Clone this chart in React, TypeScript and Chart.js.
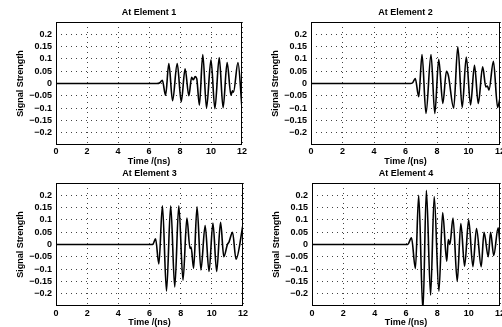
import React, { useEffect, useRef } from 'react';
import { Chart, registerables } from 'chart.js';

Chart.register(...registerables);

// ---------- data ----------
const xTicks = [0, 2, 4, 6, 8, 10, 12];
const yTicks = [-0.2, -0.15, -0.1, -0.05, 0, 0.05, 0.1, 0.15, 0.2];
const yTickLabels = ['\u22120.2', '\u22120.15', '\u22120.1', '\u22120.05', '0', '0.05', '0.1', '0.15', '0.2'];
const titles = ['At Element 1', 'At Element 2', 'At Element 3', 'At Element 4'];
const xLabel = 'Time /(ns)';
const yLabel = 'Signal Strength';

const time1 = [0, 6.5, 6.7, 6.86, 7.07, 7.28, 7.52, 7.82, 8.08, 8.33, 8.57, 8.75, 8.86, 8.98, 9.08, 9.25, 9.47, 9.71, 10.0, 10.25, 10.53, 10.78, 11.04, 11.29, 11.38, 11.45, 11.74, 12.0];
const signal1 = [0, 0, 0.003, 0.013, -0.048, 0.081, -0.07, 0.081, -0.074, 0.06, -0.05, 0.025, 0.015, 0.028, 0.02, -0.088, 0.118, -0.099, 0.096, -0.102, 0.105, -0.098, 0.085, -0.048, -0.03, -0.035, 0.085, -0.1];

const time2 = [0, 6.3, 6.45, 6.62, 6.84, 7.05, 7.3, 7.62, 7.86, 8.11, 8.37, 8.6, 8.72, 9.06, 9.32, 9.6, 9.86, 10.13, 10.38, 10.62, 10.9, 11.1, 11.2, 11.3, 11.58, 11.85, 12.0];
const signal2 = [0, 0, 0.003, 0.02, -0.054, 0.118, -0.122, 0.118, -0.122, 0.098, -0.081, 0.05, 0.033, -0.1, 0.149, -0.097, 0.108, -0.087, 0.074, -0.081, 0.068, -0.014, -0.01, -0.027, 0.09, -0.097, -0.06];

const time3 = [0, 6.2, 6.39, 6.6, 6.83, 7.09, 7.36, 7.62, 7.88, 8.15, 8.4, 8.6, 8.67, 8.83, 9.05, 9.3, 9.57, 9.82, 10.07, 10.31, 10.56, 10.77, 11.0, 11.1, 11.33, 11.55, 12.0];
const signal3 = [0, 0, 0.023, -0.079, 0.157, -0.19, 0.157, -0.173, 0.157, -0.145, 0.108, -0.016, -0.01, -0.097, 0.153, -0.103, 0.077, -0.11, 0.087, -0.11, 0.09, -0.05, 0.0, 0.01, 0.05, -0.06, 0.08];

const time4 = [0, 6.1, 6.35, 6.6, 6.81, 7.08, 7.3, 7.57, 7.8, 8.1, 8.34, 8.6, 8.7, 8.8, 9.0, 9.27, 9.5, 9.74, 10.0, 10.27, 10.5, 10.8, 10.98, 11.25, 11.4, 11.6, 11.88, 12.0];
const signal4 = [0, 0, 0.027, -0.098, 0.2, -0.27, 0.22, -0.206, 0.195, -0.19, 0.13, -0.068, 0.02, 0.0, 0.108, -0.15, 0.085, -0.088, 0.1, -0.09, 0.065, -0.09, 0.05, -0.05, 0.05, -0.045, 0.068, 0.0];

const times = [time1, time2, time3, time4];
const signals = [signal1, signal2, signal3, signal4];

// ---------- layout (page pixels) ----------
const panels = [
  { left: 0, top: 0, width: 251, height: 168, plot: [56, 22, 242, 145], tickPad: 1, titlePad: 1 },
  { left: 251, top: 0, width: 262, height: 168, plot: [311, 22, 500, 145], tickPad: 1, titlePad: 1 },
  { left: 0, top: 163, width: 251, height: 166, plot: [56, 183, 243, 306], tickPad: 2, titlePad: 0.6 },
  { left: 251, top: 163, width: 262, height: 166, plot: [312, 183, 500, 306], tickPad: 2, titlePad: 0.6 },
];

const FAMILY = "'Liberation Sans', Arial, Helvetica, sans-serif";
const font = { family: FAMILY, size: 9, weight: 'bold' as const, lineHeight: 1.2 };

const framePlugin = {
  id: 'frame',
  afterDatasetsDraw(chart: any) {
    const { ctx, chartArea } = chart;
    const l = Math.round(chartArea.left) + 0.5;
    const t = Math.round(chartArea.top) + 0.5;
    const r = Math.round(chartArea.right) - 0.5;
    const b = Math.round(chartArea.bottom) - 0.5;
    ctx.save();
    ctx.strokeStyle = '#000';
    ctx.lineWidth = 1;
    ctx.setLineDash([]);
    ctx.strokeRect(l, t, r - l, b - t);
    ctx.restore();
  },
};

function PanelChart({ index }: { index: number }) {
  const ref = useRef<HTMLCanvasElement | null>(null);
  const p = panels[index];
  useEffect(() => {
    if (!ref.current) return;
    const [pl, pt, pr, pb] = p.plot;
    const yAxisW = pl - p.left;
    const titleBlock = pt - p.top;
    const padRight = p.left + p.width - pr;
    const xAxisH = p.top + p.height - pb;
    const t = times[index];
    const s = signals[index];
    const chart = new Chart(ref.current, {
      type: 'line',
      data: {
        datasets: [
          {
            data: t.map((x, i) => ({ x, y: s[i] })),
            borderColor: '#000',
            borderWidth: 1.6,
            pointRadius: 0,
            fill: false,
            cubicInterpolationMode: 'monotone',
          },
        ],
      },
      plugins: [framePlugin],
      options: {
        responsive: false,
        animation: false,
        events: [],
        layout: { padding: { left: 0, top: 0, right: padRight, bottom: 0 } },
        plugins: {
          legend: { display: false },
          tooltip: { enabled: false },
          title: {
            display: true,
            text: titles[index],
            fullSize: false,
            color: '#000',
            font,
            padding: { top: titleBlock - 10.8 - 4, bottom: 4 },
          },
        },
        scales: {
          x: {
            type: 'linear',
            min: 0,
            max: 12,
            afterBuildTicks: (sc: any) => {
              sc.ticks = xTicks.map((v) => ({ value: v }));
            },
            afterFit: (sc: any) => {
              sc.height = xAxisH;
              sc.paddingLeft = 0;
              sc.paddingRight = 0;
            },
            ticks: {
              color: '#000',
              font,
              padding: p.tickPad,
              maxRotation: 0,
              autoSkip: false,
              callback: (v: any) => String(v),
            },
            grid: { color: '#444', lineWidth: 1, drawTicks: false },
            border: { display: false, dash: [1, 4] },
            title: {
              display: true,
              text: xLabel,
              color: '#000',
              font,
              padding: { top: 0, bottom: p.titlePad },
            },
          },
          y: {
            type: 'linear',
            min: -0.25,
            max: 0.25,
            afterBuildTicks: (sc: any) => {
              sc.ticks = yTicks.map((v) => ({ value: v }));
            },
            afterFit: (sc: any) => {
              sc.width = yAxisW;
            },
            ticks: {
              color: '#000',
              font,
              padding: 4,
              autoSkip: false,
              callback: (v: any) => {
                const k = yTicks.findIndex((y) => Math.abs(y - v) < 1e-6);
                return k >= 0 ? yTickLabels[k] : '';
              },
            },
            grid: { color: '#444', lineWidth: 1, drawTicks: false },
            border: { display: false, dash: [1, 4] },
            title: {
              display: true,
              text: yLabel,
              color: '#000',
              font,
              padding: { top: yAxisW - 35 - 5.4, bottom: 0 },
            },
          },
        },
      } as any,
    });
    return () => chart.destroy();
  }, [index]);
  return (
    <canvas
      ref={ref}
      width={p.width}
      height={p.height}
      style={{ position: 'absolute', left: p.left, top: p.top, width: p.width, height: p.height }}
    />
  );
}

export default function App() {
  return (
    <div
      style={{
        position: 'fixed',
        left: 0,
        top: 0,
        width: 502,
        height: 327,
        overflow: 'hidden',
        background: '#fff',
      }}
    >
      {panels.map((_, i) => (
        <PanelChart key={i} index={i} />
      ))}
    </div>
  );
}
